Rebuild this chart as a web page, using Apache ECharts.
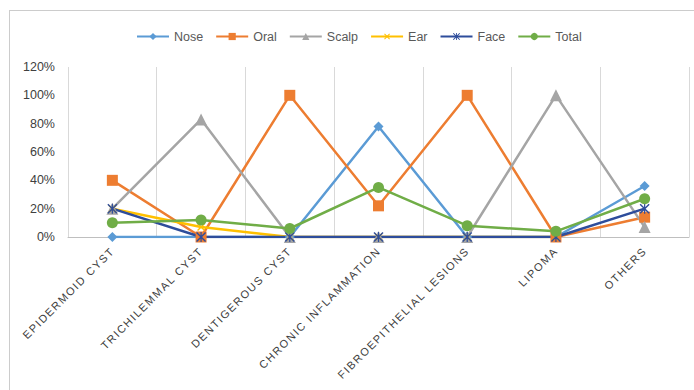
<!DOCTYPE html>
<html>
<head>
<meta charset="utf-8">
<script src="https://cdn.jsdelivr.net/npm/echarts@6/dist/echarts.min.js"></script>
<style>
  html, body { margin: 0; padding: 0; background: #fff; overflow: hidden; }
  #wrap { position: relative; width: 694px; height: 390px; }
  #chart { position: absolute; left: 0; top: 0; width: 694px; height: 390px; }
  #frame {
    position: absolute; left: 9px; top: 10px; width: 700px; height: 400px;
    border-left: 1px solid #cccccc; border-top: 1px solid #cccccc;
    pointer-events: none; z-index: 5;
  }
</style>
</head>
<body>
<div id="wrap">
  <div id="chart"></div>
  <div id="frame"></div>
</div>
<script>
// Lesion categories along the horizontal axis
const categories = ['EPIDERMOID CYST', 'TRICHILEMMAL CYST', 'DENTIGEROUS CYST', 'CHRONIC INFLAMMATION', 'FIBROEPITHELIAL LESIONS', 'LIPOMA', 'OTHERS'];

// Share of each lesion type per site (%)
const nose  = [0, 0, 0, 78, 0, 0, 36];
const oral  = [40, 0, 100, 22, 100, 0, 14];
const scalp = [20, 83, 0, 0, 0, 100, 7];
const ear   = [20, 7, 0, 0, 0, 0, null];
const face  = [20, 0, 0, 0, 0, 0, 20];
const total = [10, 12, 6, 35, 8, 4, 27];

const plusPath = 'path://M4.3,0 H5.7 V4.3 H10 V5.7 H5.7 V10 H4.3 V5.7 H0 V4.3 H4.3 Z';
const starPath = 'path://M0,1 L1,0 L5,4 L9,0 L10,1 L6,5 L10,9 L9,10 L5,6 L1,10 L0,9 L4,5 Z M4.4,0 H5.6 V10 H4.4 Z';

function line(name, data, color, symbol, size, extra) {
  return Object.assign({
    name: name,
    type: 'line',
    data: data,
    symbol: symbol,
    symbolSize: size,
    connectNulls: false,
    lineStyle: { color: color, width: 2.5 },
    itemStyle: { color: color },
    emphasis: { disabled: true },
    animation: false
  }, extra || {});
}

const chart = echarts.init(document.getElementById('chart'), null, { renderer: 'svg' });
chart.setOption({
  animation: false,
  textStyle: { fontFamily: 'Liberation Sans' },
  legend: {
    top: 25,
    left: 131,
    itemWidth: 32,
    itemHeight: 9,
    itemGap: 12,
    textStyle: { color: '#595959', fontSize: 12.5 },
    data: ['Nose', 'Oral', 'Scalp', 'Ear', 'Face', 'Total']
  },
  grid: { left: 68, right: 5, top: 67, bottom: 153 },
  xAxis: {
    type: 'category',
    data: categories,
    boundaryGap: true,
    axisLine: { lineStyle: { color: '#bfbfbf' } },
    axisTick: { show: false },
    splitLine: { show: true, interval: 0, lineStyle: { color: '#d9d9d9', width: 1 } },
    axisLabel: {
      interval: 0,
      rotate: 45,
      color: '#404040',
      fontSize: 11,
      margin: 12
    }
  },
  yAxis: {
    type: 'value',
    min: 0,
    max: 120,
    interval: 20,
    axisLine: { show: false },
    axisTick: { show: false },
    splitLine: { show: false },
    axisLabel: { color: '#404040', fontSize: 12.5, margin: 13, formatter: v => v + '%' }
  },
  series: [
    line('Nose', nose, '#5B9BD5', 'diamond', 10),
    line('Oral', oral, '#ED7D31', 'rect', 11),
    line('Scalp', scalp, '#A5A5A5', 'triangle', 12),
    line('Ear', ear, '#FFC000', plusPath, 10, { symbolRotate: 45 }),
    line('Face', face, '#2E4D9B', starPath, 10),
    line('Total', total, '#70AD47', 'circle', 11)
  ]
});

// Spaced-out lettering for the category labels
document.querySelectorAll('#chart svg text').forEach(function (t) {
  if (categories.indexOf(t.textContent) !== -1) {
    t.setAttribute('letter-spacing', '1.5px');
  }
});
</script>
</body>
</html>
